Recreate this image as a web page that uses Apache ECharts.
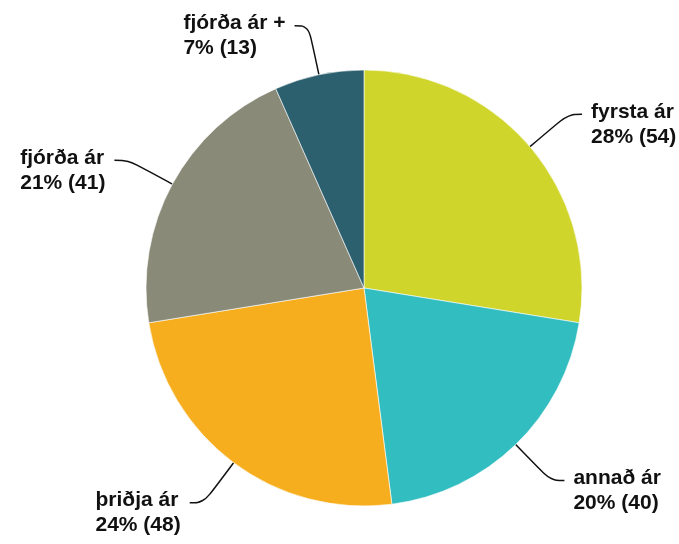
<!DOCTYPE html>
<html>
<head>
<meta charset="utf-8">
<script src="https://cdn.jsdelivr.net/npm/echarts@6/dist/echarts.min.js"></script>
<style>
  html, body { margin: 0; padding: 0; background: #ffffff; }
  #chart { width: 679px; height: 544px; }
</style>
</head>
<body>
<div id="chart"></div>
<script>
var categories = ['fyrsta ár', 'annað ár', 'þriðja ár', 'fjórða ár', 'fjórða ár +'];
var counts = [54, 40, 48, 41, 13];
var colors = ['#cfd52a', '#32bdc0', '#f6ae1f', '#8a8a79', '#2d606f'];

var chart = echarts.init(document.getElementById('chart'));

var option = {
  backgroundColor: '#ffffff',
  animation: false,
  color: colors,
  series: [{
    type: 'pie',
    center: [364, 288],
    radius: [0, 218],
    startAngle: 90,
    percentPrecision: 0,
    itemStyle: {
      borderColor: '#ffffff',
      borderWidth: 0.6
    },
    label: {
      show: true,
      position: 'outside',
      overflow: 'none',
      edgeDistance: 0,
      distanceToLabelLine: 9,
      padding: [20, 0, 0, 0],
      formatter: '{t|{b}}\n{t|{d}% ({c})}',
      rich: {
        t: {
          align: 'left',
          color: '#111111',
          fontFamily: 'Liberation Sans',
          fontWeight: 'bold',
          fontSize: 21,
          lineHeight: 25
        }
      }
    },
    labelLine: {
      show: true,
      length: 50,
      length2: 14,
      smooth: 0.4,
      lineStyle: { color: '#111111', width: 1.5 }
    },
    data: categories.map(function (name, i) {
      return { name: name, value: counts[i] };
    })
  }]
};

chart.setOption(option);
</script>
</body>
</html>
